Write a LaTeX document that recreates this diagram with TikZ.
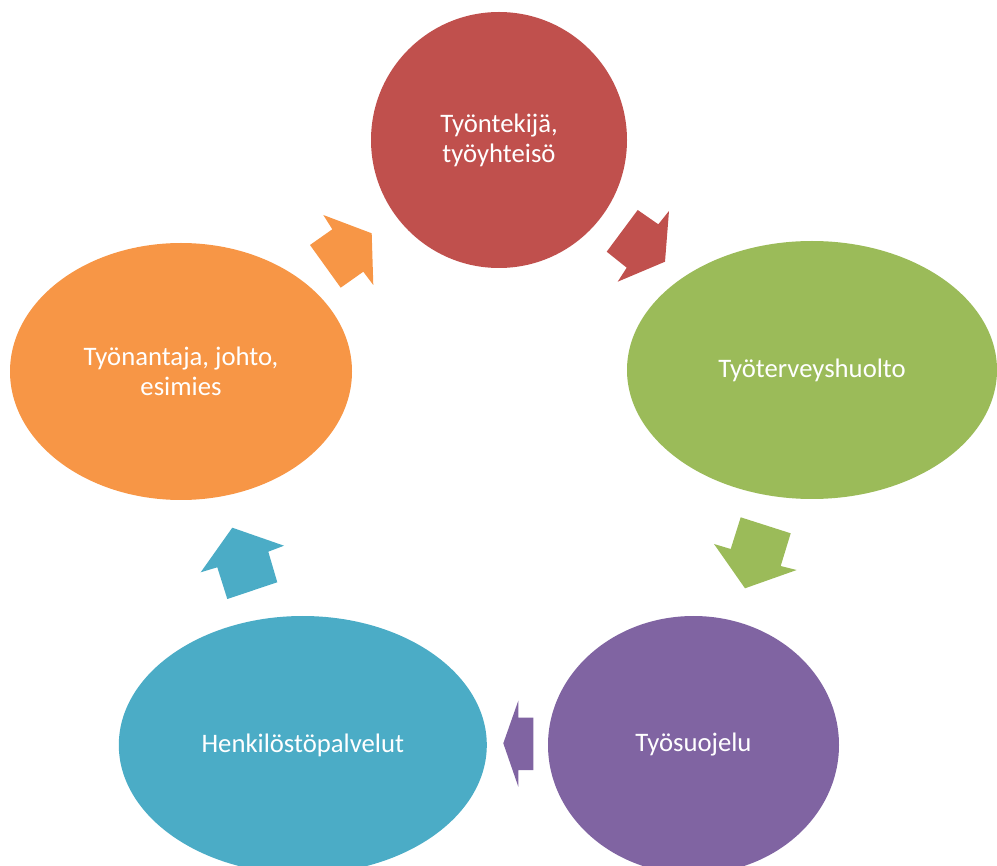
\documentclass[tikz,border=0pt]{standalone}
\usepackage{fontspec}
\setmainfont{Carlito}
\usetikzlibrary{shapes.geometric}
\definecolor{cred}{HTML}{C0504D}
\definecolor{cgreen}{HTML}{9BBB59}
\definecolor{cpurple}{HTML}{8064A2}
\definecolor{cblue}{HTML}{4BACC6}
\definecolor{corange}{HTML}{F79646}
\tikzset{
  blob/.style={ellipse, inner sep=0pt, text=white, align=center,
    font=\fontsize{26.7}{30}\selectfont}
}
\begin{document}
\begin{tikzpicture}[x=1pt,y=-1pt]
\useasboundingbox (0,0) rectangle (997,866);
\clip (0,0) rectangle (997,866);
% ellipses
\node[blob, fill=cred, minimum width=256pt, minimum height=256pt] (n1) at (499,140) {Työntekijä,\\työyhteisö};
\node[blob, fill=cgreen, minimum width=370pt, minimum height=258pt] (n2) at (812,370) {Työterveyshuolto};
\node[blob, fill=cpurple, minimum width=291pt, minimum height=258pt] (n3) at (693.5,745) {Työsuojelu};
\node[blob, fill=cblue, minimum width=368pt, minimum height=258pt] (n4) at (302.8,745) {Henkilöstöpalvelut};
\node[blob, fill=corange, minimum width=342pt, minimum height=257pt] (n5) at (181,371.5) {Työnantaja, johto,\\esimies};
% block arrows
\fill[cred] (637.7,210) -- (658.3,224.3) -- (669,211) -- (665,261.7) -- (617.7,281.7) -- (626.7,267.7) -- (606.7,251.7) -- cycle;
\fill[cgreen] (740.7,517.3) -- (790.7,533.3) -- (780.7,566) -- (796.7,570) -- (745,588.3) -- (714,544) -- (730.7,549) -- cycle;
\fill[cpurple] (533.3,717.7) -- (533.3,770) -- (518.3,770) -- (518.3,786.7) -- (503.3,743.3) -- (518.3,700.7) -- (518.3,717.7) -- cycle;
\fill[cblue] (227.3,599) -- (277.3,582.3) -- (268.3,551.7) -- (284,545.7) -- (232.3,527.7) -- (200.7,572.3) -- (217.3,567.3) -- cycle;
\fill[corange] (310,245) -- (332.3,229.3) -- (323.3,215) -- (371.7,233.3) -- (373.3,285) -- (363.3,271.7) -- (340.7,287.7) -- cycle;
\end{tikzpicture}
\end{document}
